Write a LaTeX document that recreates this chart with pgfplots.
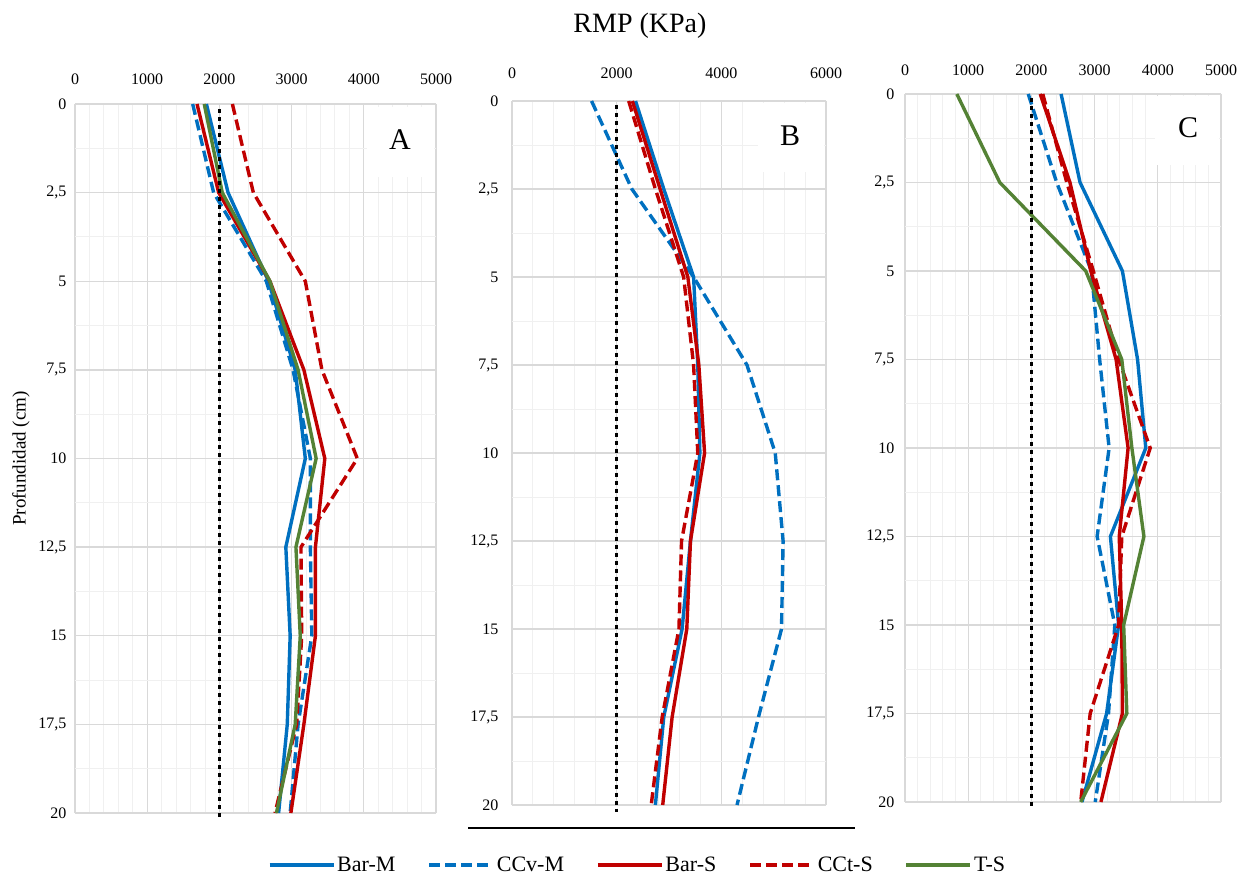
\documentclass[border=0pt]{standalone}
\usepackage{fontspec}
\setmainfont{Liberation Serif}
\usepackage{pgfplots}
\pgfplotsset{compat=1.18}
\usepackage{pgfplotstable}
\definecolor{cblue}{HTML}{0070C0}
\definecolor{cred}{HTML}{C00000}
\definecolor{cgreen}{HTML}{548235}

\pgfplotstableread{
d barM ccvM barS cctS TS
0    1820 1630 1690 2180 1790
2.5  2120 1920 1990 2470 2040
5    2680 2650 2700 3190 2700
7.5  3050 3020 3170 3420 3090
10   3190 3260 3460 3910 3340
12.5 2920 3260 3330 3130 3060
15   2980 3280 3330 3140 3120
17.5 2940 3090 3170 3070 3050
20   2820 2980 2990 2770 2790
}\tA

\pgfplotstableread{
d barM ccvM barS cctS
0    2360 1520 2300 2230
2.5  2900 2290 2830 2740
5    3470 3470 3360 3280
7.5  3550 4490 3570 3470
10   3590 5030 3680 3550
12.5 3410 5180 3410 3240
15   3250 5150 3340 3190
17.5 2900 4710 3060 2870
20   2740 4300 2880 2660
}\tB

\pgfplotstableread{
d barM ccvM barS cctS TS
0    2470 1950 2140 2180 820
2.5  2770 2400 2610 2560 1500
5    3440 2950 2940 2980 2860
7.5  3680 3080 3340 3380 3430
10   3810 3230 3530 3880 3590
12.5 3250 3040 3390 3430 3780
15   3380 3320 3430 3380 3460
17.5 3190 3220 3440 2930 3510
20   2800 3010 3100 2780 2780
}\tC

\pgfplotsset{
 panel/.style={
  scale only axis, y dir=reverse, ymin=0, ymax=20, xmin=0, clip=false,
  axis line style={draw=none},
  tick style={draw=none},
  xticklabel pos=top,
  grid=both,
  major grid style={draw=black!15, line width=1.3pt},
  minor grid style={draw=black!6, line width=0.9pt},
  ytick={0,2.5,5,7.5,10,12.5,15,17.5,20},
  minor y tick num=1,
  minor x tick num=4,
  major tick length=0pt, minor tick length=0pt,
  scaled x ticks=false,
  tick label style={font=\fontsize{16}{18}\selectfont},
  /pgf/number format/use comma,
  /pgf/number format/1000 sep={},
  /pgf/number format/assume math mode=true,
 },
 sBarM/.style={cblue, line width=3.4pt},
 sCCvM/.style={cblue, line width=3.4pt, dash pattern=on 11pt off 5pt},
 sBarS/.style={cred, line width=3.4pt},
 sCCtS/.style={cred, line width=3.4pt, dash pattern=on 11pt off 5pt},
 sTS/.style={cgreen, line width=3.4pt},
 sDot/.style={black, line width=3.6pt, dash pattern=on 4pt off 4pt, forget plot},
}

\begin{document}
\begin{tikzpicture}[x=1pt,y=1pt]
\path[use as bounding box] (0,0) rectangle (1248,877);

% Panel A
\begin{axis}[panel, at={(75pt,64pt)}, anchor=south west,
  width=361pt, height=709pt, xmax=5000,
  xtick={0,1000,2000,3000,4000,5000},
  xticklabel style={yshift=16pt},
  yticklabel style={xshift=-5pt},
  ylabel={Profundidad (cm)},
  ylabel style={at={(axis description cs:-0.150,0.5)}, anchor=center, font=\fontsize{19}{21}\selectfont}]
\addplot[sBarM] table[x=barM,y=d]{\tA};
\addplot[sCCvM] table[x=ccvM,y=d]{\tA};
\addplot[sBarS] table[x=barS,y=d]{\tA};
\addplot[sCCtS] table[x=cctS,y=d]{\tA};
\addplot[sTS] table[x=TS,y=d]{\tA};
\addplot[sDot] coordinates {(2000,0.15) (2000,20.2)};
\end{axis}

% Panel B
\begin{axis}[panel, at={(512pt,72pt)}, anchor=south west,
  width=314pt, height=704pt, xmax=6000,
  xtick={0,2000,4000,6000},
  xticklabel style={yshift=19pt},
  yticklabel style={xshift=-10pt},
  legend columns=5,
  legend style={at={(0.3997,-0.0852)}, anchor=center, draw=none, fill=none,
    font=\fontsize{22}{24}\selectfont, nodes={inner sep=2pt},
    /tikz/every even column/.append style={column sep=30pt}},
  legend image code/.code={\draw[#1] (0pt,0pt) -- (64pt,0pt);}]
\addplot[sBarM] table[x=barM,y=d]{\tB};
\addlegendentry{Bar-M}
\addplot[sCCvM] table[x=ccvM,y=d]{\tB};
\addlegendentry{CCv-M}
\addplot[sBarS] table[x=barS,y=d]{\tB};
\addlegendentry{Bar-S}
\addplot[sCCtS] table[x=cctS,y=d]{\tB};
\addlegendentry{CCt-S}
\addlegendimage{sTS}
\addlegendentry{T-S}
\addplot[sDot] coordinates {(2000,0.1) (2000,20.2)};
\end{axis}

% Panel C
\begin{axis}[panel, at={(905pt,75pt)}, anchor=south west,
  width=316pt, height=708pt, xmax=5000,
  xtick={0,1000,2000,3000,4000,5000},
  xticklabel style={yshift=15pt},
  yticklabel style={xshift=-7pt}]
\addplot[sBarM] table[x=barM,y=d]{\tC};
\addplot[sCCvM] table[x=ccvM,y=d]{\tC};
\addplot[sBarS] table[x=barS,y=d]{\tC};
\addplot[sCCtS] table[x=cctS,y=d]{\tC};
\addplot[sTS] table[x=TS,y=d]{\tC};
\addplot[sDot] coordinates {(2000,0.1) (2000,20.15)};
\end{axis}

% panel letter boxes
\fill[white] (367,700) rectangle (434,770);
\node[font=\fontsize{30}{32}\selectfont] at (400,737) {A};
\fill[white] (758,705) rectangle (824,774);
\node[font=\fontsize{30}{32}\selectfont] at (790,741) {B};
\fill[white] (1155,712) rectangle (1219,781);
\node[font=\fontsize{30}{32}\selectfont] at (1188,749) {C};

% title and rule
\node[font=\fontsize{28}{30}\selectfont] at (640,851) {RMP (KPa)};
\draw[line width=1.3pt] (468,49) -- (855,49);
\end{tikzpicture}
\end{document}
